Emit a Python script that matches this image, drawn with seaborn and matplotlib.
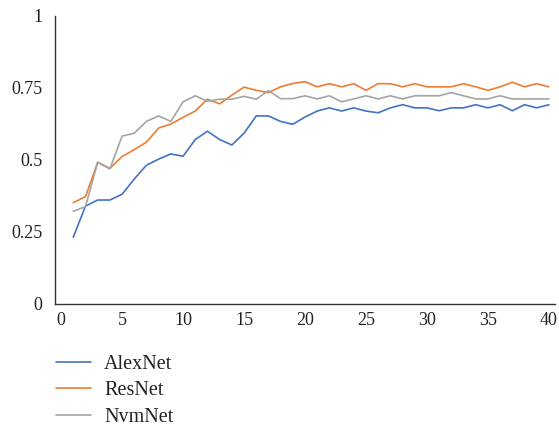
import numpy as np
import pandas as pd
import matplotlib
matplotlib.use("Agg")
import matplotlib.pyplot as plt
import seaborn as sns

epochs = list(range(1, 41))

alexnet = [0.232, 0.340, 0.361, 0.361, 0.381, 0.434, 0.482, 0.503, 0.521, 0.513,
           0.571, 0.600, 0.571, 0.552, 0.593, 0.653, 0.653, 0.634, 0.624, 0.649,
           0.670, 0.681, 0.670, 0.681, 0.670, 0.664, 0.681, 0.692, 0.681, 0.681,
           0.671, 0.681, 0.681, 0.692, 0.681, 0.692, 0.671, 0.692, 0.681, 0.692]

resnet = [0.352, 0.373, 0.492, 0.471, 0.512, 0.536, 0.562, 0.611, 0.625, 0.648,
          0.670, 0.711, 0.695, 0.725, 0.753, 0.742, 0.734, 0.754, 0.766, 0.772,
          0.754, 0.765, 0.754, 0.765, 0.742, 0.765, 0.765, 0.754, 0.765, 0.754,
          0.754, 0.754, 0.765, 0.754, 0.742, 0.754, 0.770, 0.754, 0.765, 0.754]

nvmnet = [0.322, 0.338, 0.492, 0.469, 0.583, 0.593, 0.634, 0.653, 0.634, 0.702,
          0.723, 0.704, 0.711, 0.711, 0.721, 0.711, 0.741, 0.713, 0.713, 0.723,
          0.712, 0.723, 0.702, 0.712, 0.723, 0.712, 0.723, 0.712, 0.723, 0.723,
          0.723, 0.734, 0.723, 0.712, 0.712, 0.723, 0.712, 0.712, 0.712, 0.712]

models = ["AlexNet", "ResNet", "NvmNet"]
colors = ["#4472C4", "#ED7D31", "#A5A5A5"]
x_ticks = [0, 5, 10, 15, 20, 25, 30, 35, 40]
y_ticks = [0, 0.25, 0.5, 0.75, 1]
y_labels = ["0", "0.25", "0.5", "0.75", "1"]

df = pd.DataFrame({
    "epoch": epochs * 3,
    "value": alexnet + resnet + nvmnet,
    "model": [m for m in models for _ in epochs],
})

sns.set_style("white")
plt.rcParams["font.family"] = ["Liberation Serif", "DejaVu Serif"]

fig = plt.figure(figsize=(5.59, 4.28), dpi=100)
ax = fig.add_axes([55 / 559, 124 / 428, 500 / 559, 288 / 428])

sns.lineplot(data=df, x="epoch", y="value", hue="model", hue_order=models,
             palette=colors, linewidth=1.2, ax=ax, legend=True)

ax.set_xlim(-0.5, 40.5)
ax.set_ylim(0, 1)
ax.set_xticks(x_ticks)
ax.set_yticks(y_ticks)
ax.set_yticklabels(y_labels)
ax.set_xlabel("")
ax.set_ylabel("")
ax.tick_params(axis="both", length=0, labelsize=13, colors="#222222")
ax.tick_params(axis="x", pad=6)
ax.tick_params(axis="y", pad=9)
for side in ["top", "right"]:
    ax.spines[side].set_visible(False)
for side in ["left", "bottom"]:
    ax.spines[side].set_color("#333333")
    ax.spines[side].set_linewidth(1.0)

handles, labels = ax.get_legend_handles_labels()
ax.legend(handles, labels, loc="upper left", bbox_to_anchor=(50 / 559, 1 - 349 / 428),
          bbox_transform=fig.transFigure, frameon=False, fontsize=14.5,
          handlelength=1.74, handletextpad=0.64, labelspacing=0.36,
          borderaxespad=0, borderpad=0.3, labelcolor="#222222")

fig.savefig("out.png", dpi=100)
